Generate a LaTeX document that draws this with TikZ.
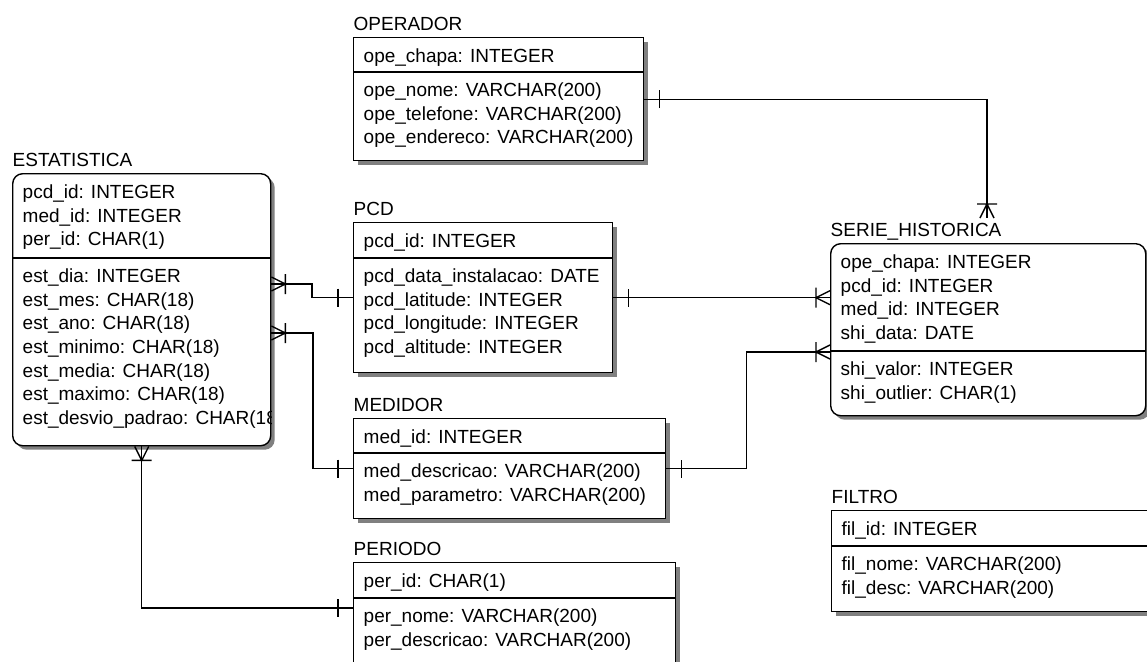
\documentclass[tikz,border=0pt]{standalone}
\usepackage{fontspec}
\setmainfont{Liberation Sans}
\usetikzlibrary{positioning,shadows,decorations.markings}

\begin{document}
\begin{tikzpicture}[x=0.5pt, y=-0.5pt, line width=0.7pt,
	font=\fontsize{9.5pt}{11.85pt}\selectfont,
	tbl/.style={draw, fill=white, anchor=north west, inner sep=0pt,
		drop shadow={shadow xshift=2pt, shadow yshift=-2pt, fill=black!50, opacity=1}},
	dep/.style={tbl, rounded corners=5pt},
	enttitle/.style={inner sep=0pt, text depth=0pt},
	fields/.style={align=left, inner sep=0pt},
	rel/.style={postaction=decorate, decoration={markings,
		mark=at position 7.5pt with {\draw (0,-4.5pt) -- (0,4.5pt);},
		mark=at position 1 with {\draw (-7pt,-5pt) -- (-7pt,5pt) (0,-3.5pt) -- (-7pt,0) -- (0,3.5pt);}}}]
	\useasboundingbox (0,0) rectangle (1147,661);

	% ESTATISTICA
	\node[dep, minimum width=129pt, minimum height=136pt] (est) at (12,173) {};
	\node[enttitle, above right=3pt and 0pt of est.north west] (est title) {ESTATISTICA};
	\node[fields, below right=5.5pt and 5pt of est.north west] (est key) {pcd\_id: INTEGER\\med\_id: INTEGER\\per\_id: CHAR(1)};
	\draw (est.west |- 0,258) coordinate (est div) -- (est.east |- 0,258);
	\begin{scope}
	\clip[rounded corners=5pt] (est.north west) rectangle (est.south east);
	\node[fields, below right=5pt and 5pt of est div] (est attr) {est\_dia: INTEGER\\est\_mes: CHAR(18)\\est\_ano: CHAR(18)\\est\_minimo: CHAR(18)\\est\_media: CHAR(18)\\est\_maximo: CHAR(18)\\est\_desvio\_padrao: CHAR(18)};
	\end{scope}

	% OPERADOR
	\node[tbl, minimum width=145pt, minimum height=61.5pt] (ope) at (353,37) {};
	\node[enttitle, above right=3pt and 0pt of ope.north west] (ope title) {OPERADOR};
	\node[fields, below right=5.5pt and 5pt of ope.north west] (ope key) {ope\_chapa: INTEGER};
	\draw (ope.west |- 0,72) coordinate (ope div) -- (ope.east |- 0,72);
	\node[fields, below right=5pt and 5pt of ope div] (ope attr) {ope\_nome: VARCHAR(200)\\ope\_telefone: VARCHAR(200)\\ope\_endereco: VARCHAR(200)};

	% PCD
	\node[tbl, minimum width=129.5pt, minimum height=75pt] (pcd) at (353,222) {};
	\node[enttitle, above right=3pt and 0pt of pcd.north west] (pcd title) {PCD};
	\node[fields, below right=5.5pt and 5pt of pcd.north west] (pcd key) {pcd\_id: INTEGER};
	\draw (pcd.west |- 0,258) coordinate (pcd div) -- (pcd.east |- 0,258);
	\node[fields, below right=5pt and 5pt of pcd div] (pcd attr) {pcd\_data\_instalacao: DATE\\pcd\_latitude: INTEGER\\pcd\_longitude: INTEGER\\pcd\_altitude: INTEGER};

	% MEDIDOR
	\node[tbl, minimum width=156pt, minimum height=50pt] (med) at (353,418) {};
	\node[enttitle, above right=3pt and 0pt of med.north west] (med title) {MEDIDOR};
	\node[fields, below right=5.5pt and 5pt of med.north west] (med key) {med\_id: INTEGER};
	\draw (med.west |- 0,453) coordinate (med div) -- (med.east |- 0,453);
	\node[fields, below right=5pt and 5pt of med div] (med attr) {med\_descricao: VARCHAR(200)\\med\_parametro: VARCHAR(200)};

	% PERIODO
	\node[tbl, minimum width=161pt, minimum height=56pt] (per) at (353,562) {};
	\node[enttitle, above right=3pt and 0pt of per.north west] (per title) {PERIODO};
	\node[fields, below right=5.5pt and 5pt of per.north west] (per key) {per\_id: CHAR(1)};
	\draw (per.west |- 0,598) coordinate (per div) -- (per.east |- 0,598);
	\node[fields, below right=5pt and 5pt of per div] (per attr) {per\_nome: VARCHAR(200)\\per\_descricao: VARCHAR(200)};

	% SERIE_HISTORICA
	\node[dep, minimum width=157.5pt, minimum height=86pt] (shi) at (830,243) {};
	\node[enttitle, above right=3pt and 0pt of shi.north west] (shi title) {SERIE\_HISTORICA};
	\node[fields, below right=5.5pt and 5pt of shi.north west] (shi key) {ope\_chapa: INTEGER\\pcd\_id: INTEGER\\med\_id: INTEGER\\shi\_data: DATE};
	\draw (shi.west |- 0,351) coordinate (shi div) -- (shi.east |- 0,351);
	\node[fields, below right=5pt and 5pt of shi div] (shi attr) {shi\_valor: INTEGER\\shi\_outlier: CHAR(1)};
	\coordinate (shi top) at (987,218);

	% FILTRO
	\node[tbl, minimum width=175pt, minimum height=50.5pt] (fil) at (831,510) {};
	\node[enttitle, above right=3pt and 0pt of fil.north west] (fil title) {FILTRO};
	\node[fields, below right=5.5pt and 5pt of fil.north west] (fil key) {fil\_id: INTEGER};
	\draw (fil.west |- 0,546) coordinate (fil div) -- (fil.east |- 0,546);
	\node[fields, below right=5pt and 5pt of fil div] (fil attr) {fil\_nome: VARCHAR(200)\\fil\_desc: VARCHAR(200)};

	% relationships: one side first, many side last
	\draw[rel] (ope.east) -| (shi top);
	\draw[rel] (pcd.east) -- (pcd.east -| shi.west);
	\draw[rel] (pcd.west) -- ++(-41,0) |- (est.east |- 0,284);
	\draw[rel] (med.west) -- ++(-40,0) |- (est.east |- 0,333);
	\draw[rel] (med.east) -- ++(80,0) |- (shi.west |- 0,352);
	\draw[rel] ([yshift=-23pt]per.north west) -| (est.south);
\end{tikzpicture}
\end{document}
